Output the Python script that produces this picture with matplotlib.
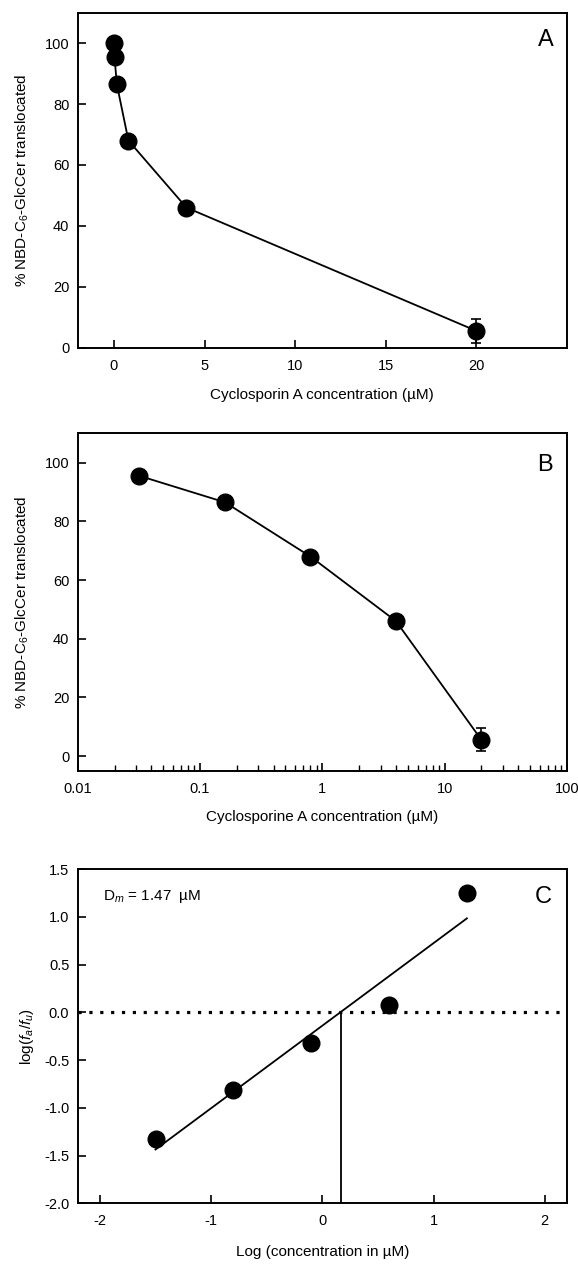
import numpy as np
import matplotlib
matplotlib.use('Agg')
import matplotlib.pyplot as plt

plt.rcParams['font.family'] = ['Liberation Sans', 'DejaVu Sans']
plt.rcParams['mathtext.fontset'] = 'custom'
plt.rcParams['mathtext.rm'] = 'Liberation Sans'
plt.rcParams['mathtext.it'] = 'Liberation Sans:italic'

# panel A / B : percent translocated vs cyclosporin A concentration
concA = [0, 0.032, 0.16, 0.8, 4, 20]
pctA = [100, 95.5, 86.5, 68, 46, 5.5]
errA = [0, 0, 0, 0, 0, 3.9]

concB = [0.032, 0.16, 0.8, 4, 20]
pctB = [95.5, 86.5, 68, 46, 5.5]
errB = [0, 0, 0, 0, 3.9]

# panel C : median-effect plot
logConc = [-1.5, -0.8, -0.1, 0.6, 1.3]
logRatio = [-1.33, -0.81, -0.32, 0.08, 1.25]
Dm = 1.47

ylabA = '% NBD-C$_6$-GlcCer translocated'

fig = plt.figure(figsize=(5.78, 12.66), dpi=100)

def styleAx(ax):
    for s in ax.spines.values():
        s.set_linewidth(1.4)
    ax.tick_params(labelsize=10.5, width=1.2, length=5.5, direction='in')
    ax.tick_params(axis='x', pad=8)
    ax.tick_params(axis='y', pad=6)

# --- A
axA = fig.add_axes([0.1344, 0.7254, 0.8465, 0.2646])
axA.errorbar(concA, pctA, yerr=errA, color='black', marker='o', ms=12,
             lw=1.3, capsize=3.6, elinewidth=1.2, capthick=1.2)
axA.set_xlim(-2, 25)
axA.set_ylim(0, 110)
axA.set_xticks([0, 5, 10, 15, 20])
axA.set_yticks([0, 20, 40, 60, 80, 100])
axA.set_xlabel('Cyclosporin A concentration (\u00b5M)', fontsize=11, labelpad=11)
axA.set_ylabel(ylabA, fontsize=11, labelpad=10)
axA.text(0.956, 0.918, 'A', transform=axA.transAxes, fontsize=17,
         ha='center', va='center')
styleAx(axA)

# --- B
axB = fig.add_axes([0.1344, 0.3912, 0.8465, 0.2665])
axB.errorbar(concB, pctB, yerr=errB, color='black', marker='o', ms=12,
             lw=1.3, capsize=3.6, elinewidth=1.2, capthick=1.2)
axB.set_xscale('log')
axB.set_xlim(0.01, 100)
axB.set_ylim(-5, 110)
axB.set_xticks([0.01, 0.1, 1, 10, 100])
axB.set_xticklabels(['0.01', '0.1', '1', '10', '100'])
axB.set_yticks([0, 20, 40, 60, 80, 100])
axB.set_xlabel('Cyclosporine A concentration (\u00b5M)', fontsize=11, labelpad=10)
axB.set_ylabel(ylabA, fontsize=11, labelpad=10)
axB.text(0.956, 0.906, 'B', transform=axB.transAxes, fontsize=17,
         ha='center', va='center')
styleAx(axB)
axB.tick_params(axis='x', which='minor', direction='in', length=4, width=1.0)

# --- C
axC = fig.add_axes([0.1344, 0.0495, 0.8465, 0.264])
slope, icpt = np.polyfit(logConc, logRatio, 1)
xfit = np.array([logConc[0], logConc[-1]])
axC.plot(xfit, slope * xfit + icpt, color='black', lw=1.3)
axC.plot(logConc, logRatio, 'o', color='black', ms=12)
axC.axhline(0, color='black', ls=(0, (1, 2.4)), lw=2.3)
axC.plot([np.log10(Dm), np.log10(Dm)], [-2, 0], color='black', lw=1.3)
axC.set_xlim(-2.2, 2.2)
axC.set_ylim(-2, 1.5)
axC.set_xticks([-2, -1, 0, 1, 2])
axC.set_yticks([-2, -1.5, -1, -0.5, 0, 0.5, 1, 1.5])
axC.set_yticklabels(['-2.0', '-1.5', '-1.0', '-0.5', '0.0', '0.5', '1.0', '1.5'])
axC.set_xticklabels(['-2', '-1', '0', '1', '2'])
axC.set_xlabel('Log (concentration in \u00b5M)', fontsize=11, labelpad=12)
axC.set_ylabel('log($\\it{f}_a$/$\\it{f}_u$)', fontsize=11, labelpad=6)
axC.text(0.0525, 0.919, 'D$_m$ = %.2f  \u00b5M' % Dm, transform=axC.transAxes,
         fontsize=11, ha='left', va='center')
axC.text(0.951, 0.917, 'C', transform=axC.transAxes, fontsize=17,
         ha='center', va='center')
styleAx(axC)

fig.savefig('out.png', dpi=100)
